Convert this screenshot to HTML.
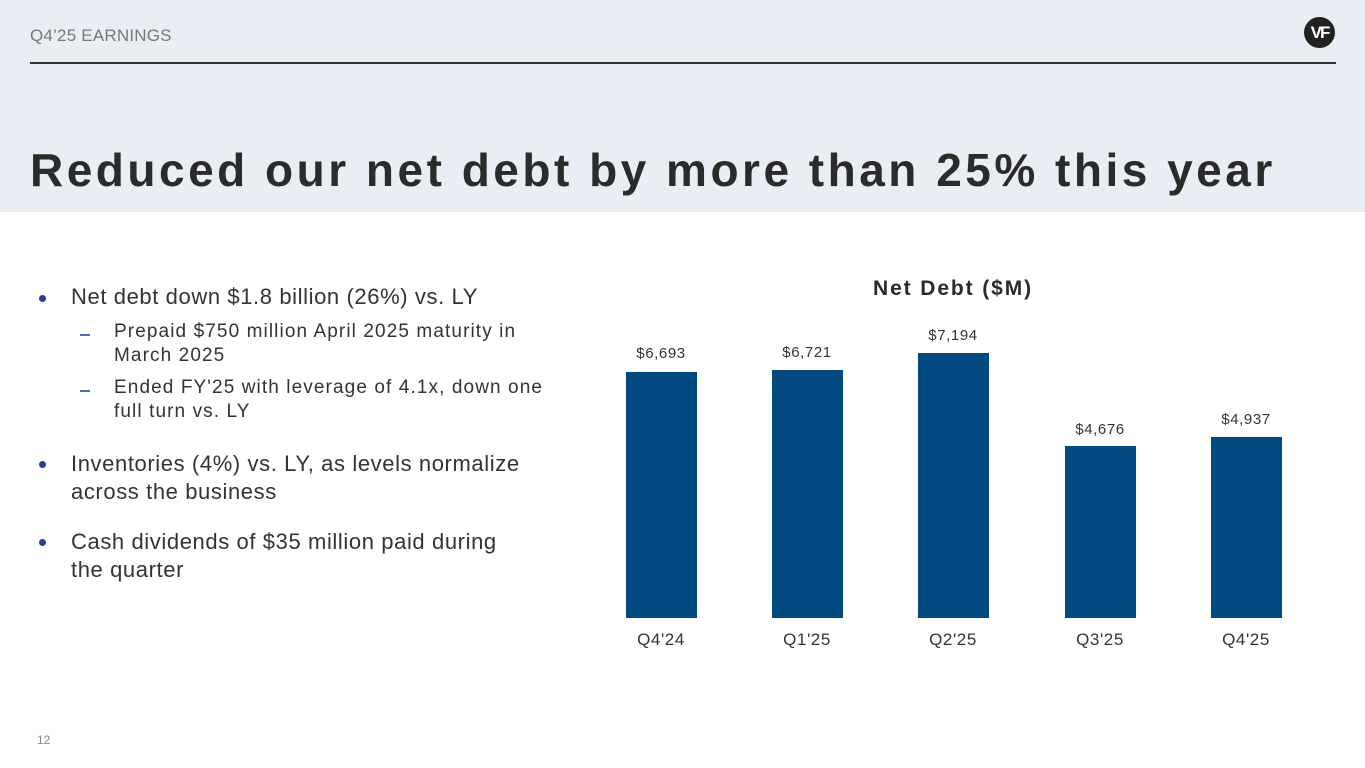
<!DOCTYPE html>
<html><head><meta charset="utf-8"><style>
*{margin:0;padding:0;box-sizing:border-box}
body{width:1365px;height:768px;background:#fff;position:relative;overflow:hidden;font-family:"Liberation Sans",sans-serif;color:#333}
.band{position:absolute;left:0;top:0;width:1365px;height:212px;background:#e9eef4}
.hdr{position:absolute;left:30px;top:26px;font-size:17px;color:#777;letter-spacing:0.2px}
.line{position:absolute;left:30px;top:62px;width:1306px;height:1.5px;background:#333}
.logo{position:absolute;left:1304px;top:17px;width:31px;height:31px;border-radius:50%;background:#222;color:#fff;font-weight:bold;font-size:17px;text-align:center;line-height:31px;letter-spacing:-2px}
h1{position:absolute;left:30px;top:143px;font-size:46px;font-weight:bold;color:#2b2b2b;letter-spacing:3.5px;white-space:nowrap}
.t{position:absolute;white-space:nowrap;color:#333}
.b{font-size:22px;letter-spacing:0.6px}
.s{font-size:19px;letter-spacing:1.1px}
.dot{position:absolute;width:7px;height:7px;border-radius:50%;background:#1f3f99}
.dash{position:absolute;width:10px;height:2px;background:#4a6fb5}
.bar{position:absolute;background:#004a80;width:71px}
.v{position:absolute;font-size:15px;color:#333;width:100px;text-align:center;letter-spacing:0.6px}
.x{position:absolute;font-size:17px;color:#333;width:100px;text-align:center;top:630px;letter-spacing:0.6px}
</style></head><body>
<div class="band"></div>
<div class="hdr">Q4’25 EARNINGS</div>
<div class="line"></div>
<div class="logo">VF</div>
<h1>Reduced our net debt by more than 25% this year</h1>

<div class="dot" style="left:39px;top:295px"></div>
<div class="t b" style="left:71px;top:284px">Net debt down $1.8 billion (26%) vs. LY</div>
<div class="dash" style="left:80px;top:334px"></div>
<div class="t s" style="left:114px;top:320px;line-height:24px">Prepaid $750 million April 2025 maturity in<br>March 2025</div>
<div class="dash" style="left:80px;top:390px"></div>
<div class="t s" style="left:114px;top:376px;line-height:24px">Ended FY'25 with leverage of 4.1x, down one<br>full turn vs. LY</div>
<div class="dot" style="left:39px;top:461px"></div>
<div class="t b" style="left:71px;top:450px;line-height:28px">Inventories (4%) vs. LY, as levels normalize<br>across the business</div>
<div class="dot" style="left:39px;top:539px"></div>
<div class="t b" style="left:71px;top:528px;line-height:28px">Cash dividends of $35 million paid during<br>the quarter</div>

<div class="t" style="left:873px;top:277px;font-size:21px;font-weight:bold;color:#2b2b2b;letter-spacing:1.9px">Net Debt ($M)</div>

<div class="bar" style="left:626px;top:372px;height:246px"></div>
<div class="bar" style="left:772px;top:370px;height:248px"></div>
<div class="bar" style="left:918px;top:353px;height:265px"></div>
<div class="bar" style="left:1065px;top:446px;height:172px"></div>
<div class="bar" style="left:1211px;top:437px;height:181px"></div>

<div class="v" style="left:611px;top:345px">$6,693</div>
<div class="v" style="left:757px;top:344px">$6,721</div>
<div class="v" style="left:903px;top:327px">$7,194</div>
<div class="v" style="left:1050px;top:421px">$4,676</div>
<div class="v" style="left:1196px;top:411px">$4,937</div>

<div class="x" style="left:611px">Q4'24</div>
<div class="x" style="left:757px">Q1'25</div>
<div class="x" style="left:903px">Q2'25</div>
<div class="x" style="left:1050px">Q3'25</div>
<div class="x" style="left:1196px">Q4'25</div>

<div class="t" style="left:37px;top:733px;font-size:12px;color:#888">12</div>
</body></html>
